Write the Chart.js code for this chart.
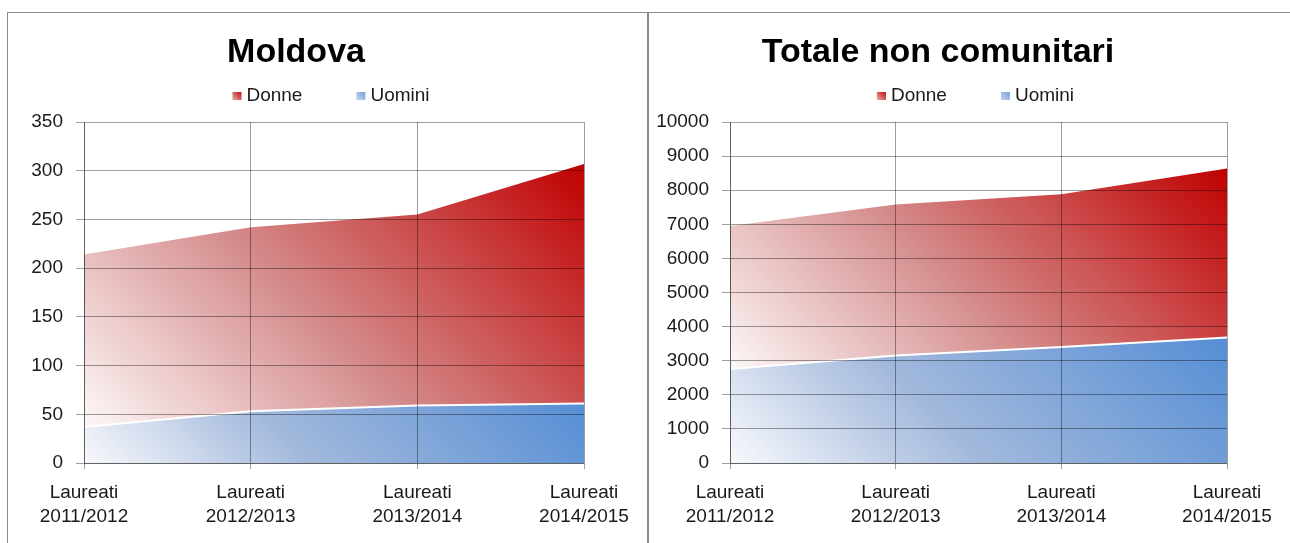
<!DOCTYPE html>
<html>
<head>
<meta charset="utf-8">
<script src="https://cdn.jsdelivr.net/npm/chart.js@4.4.0/dist/chart.umd.min.js"></script>
<style>
  body { margin: 0; background: #fff; width: 1290px; height: 543px; overflow: hidden; position: relative; }
  .panel { position: absolute; border: 1px solid #8c8c8c; box-sizing: border-box; }
  canvas { position: absolute; }
</style>
</head>
<body>
<div class="panel" style="left:7px; top:12px; width:641px; height:545px;"></div>
<div class="panel" style="left:648px; top:12px; width:650px; height:545px;"></div>
<canvas id="chartMoldova" width="638" height="530" style="left:8px; top:13px;"></canvas>
<canvas id="chartTotale" width="641" height="530" style="left:649px; top:13px;"></canvas>
<script>
const labels = [
  ['Laureati', '2011/2012'],
  ['Laureati', '2012/2013'],
  ['Laureati', '2013/2014'],
  ['Laureati', '2014/2015']
];
const seriesNames = ['Donne', 'Uomini'];

// Moldova
const moldovaUomini = [37, 53, 59, 61];
const moldovaDonne = [177, 189, 196, 246];

// Totale non comunitari
const totaleUomini = [2760, 3150, 3400, 3680];
const totaleDonne = [4190, 4430, 4480, 4960];

const FONT = '"Liberation Sans", Arial, sans-serif';
const GRID = 'rgba(0,0,0,0.38)';

// 45 degree gradient over the bounding box of a stacked band
function bandGradient(chart, low, high, stops) {
  const {ctx, chartArea, scales} = chart;
  if (!chartArea) return stops[stops.length - 1][1];
  const y = scales.y;
  const top = Math.min(...high.map(v => y.getPixelForValue(v)));
  const bottom = Math.max(...low.map(v => y.getPixelForValue(v)));
  const left = chartArea.left, right = chartArea.right;
  const d = ((right - left) + (bottom - top)) / 2;
  const g = ctx.createLinearGradient(left, bottom, left + d, bottom - d);
  stops.forEach(s => g.addColorStop(s[0], s[1]));
  return g;
}

const blueStops = [[0, '#f8f9fc'], [0.4, '#a3b9dc'], [1, '#558ed5']];
const redStops = [[0, '#fdf8f8'], [0.45, '#d48a8a'], [1, '#c00000']];

const boxLegend = {
  id: 'boxLegend',
  afterDraw(chart) {
    const ctx = chart.ctx;
    const area = chart.chartArea;
    ctx.save();
    ctx.font = '19px ' + FONT;
    const box = 9, gapBox = 5, gapItem = 54;
    const w0 = ctx.measureText(seriesNames[0]).width;
    const w1 = ctx.measureText(seriesNames[1]).width;
    const total = box + gapBox + w0 + gapItem + box + gapBox + w1;
    let x = (area.left + area.right) / 2 - 3 - total / 2;
    const cy = 82;
    const fills = [['#e8b0b0', '#c00000'], ['#c6d7ee', '#6f9bd8']];
    [w0, w1].forEach((w, i) => {
      const g = ctx.createLinearGradient(x, cy + 5, x + box, cy - 4);
      g.addColorStop(0, fills[i][0]);
      g.addColorStop(1, fills[i][1]);
      ctx.fillStyle = g;
      ctx.fillRect(x, cy - 3, box, 8);
      ctx.fillStyle = '#1a1a1a';
      ctx.textBaseline = 'middle';
      ctx.textAlign = 'left';
      ctx.fillText(seriesNames[i], x + box + gapBox, cy + 1);
      x += box + gapBox + w + gapItem;
    });
    ctx.restore();
  }
};

function makeChart(id, title, uomini, donne, yMax, yStep, axisWidth, padRight) {
  const totals = uomini.map((v, i) => v + donne[i]);
  const zeros = uomini.map(() => 0);
  return new Chart(document.getElementById(id), {
    type: 'line',
    data: {
      labels: labels,
      datasets: [{
          label: seriesNames[1],
          data: uomini,
          fill: 'origin',
          borderColor: '#ffffff',
          borderWidth: 2,
          pointRadius: 0,
          tension: 0,
          backgroundColor: ctx => bandGradient(ctx.chart, zeros, uomini, blueStops)
        }, {
          label: seriesNames[0],
          data: donne,
          fill: '-1',
          borderWidth: 0,
          borderColor: 'rgba(0,0,0,0)',
          pointRadius: 0,
          tension: 0,
          backgroundColor: ctx => bandGradient(ctx.chart, uomini, totals, redStops)
        }
      ]
    },
    options: {
      responsive: false,
      animation: false,
      devicePixelRatio: 1,
      layout: { padding: { left: 0, right: padRight, top: 0, bottom: 0 } },
      plugins: {
        legend: { display: false },
        tooltip: { enabled: false },
        title: {
          display: true,
          text: title,
          color: '#000',
          font: { family: FONT, size: 34, weight: 'bold', lineHeight: 1.2 },
          padding: { top: 19.6, bottom: 48.6 }
        }
      },
      scales: {
        x: {
          offset: false,
          grid: { z: 1, color: GRID, lineWidth: 1, tickLength: 6, drawTicks: true },
          border: { z: 2, color: GRID },
          ticks: {
            color: '#1a1a1a',
            padding: 12,
            maxRotation: 0,
            autoSkip: false,
            font: { family: FONT, size: 19, lineHeight: 1.26 }
          },
          afterFit: s => { s.height = 80; }
        },
        y: {
          stacked: true,
          min: 0,
          max: yMax,
          grid: { z: 1, color: GRID, lineWidth: 1, tickLength: 8 },
          border: { z: 2, color: GRID },
          ticks: {
            stepSize: yStep,
            color: '#1a1a1a',
            padding: 13,
            font: { family: FONT, size: 19 },
            callback: value => String(value)
          },
          afterFit: s => { s.width = axisWidth; }
        }
      }
    },
    plugins: [boxLegend]
  });
}

makeChart('chartMoldova', 'Moldova', moldovaUomini, moldovaDonne, 350, 50, 76, 62);
makeChart('chartTotale', 'Totale non comunitari', totaleUomini, totaleDonne, 10000, 1000, 81, 63);
</script>
</body>
</html>
